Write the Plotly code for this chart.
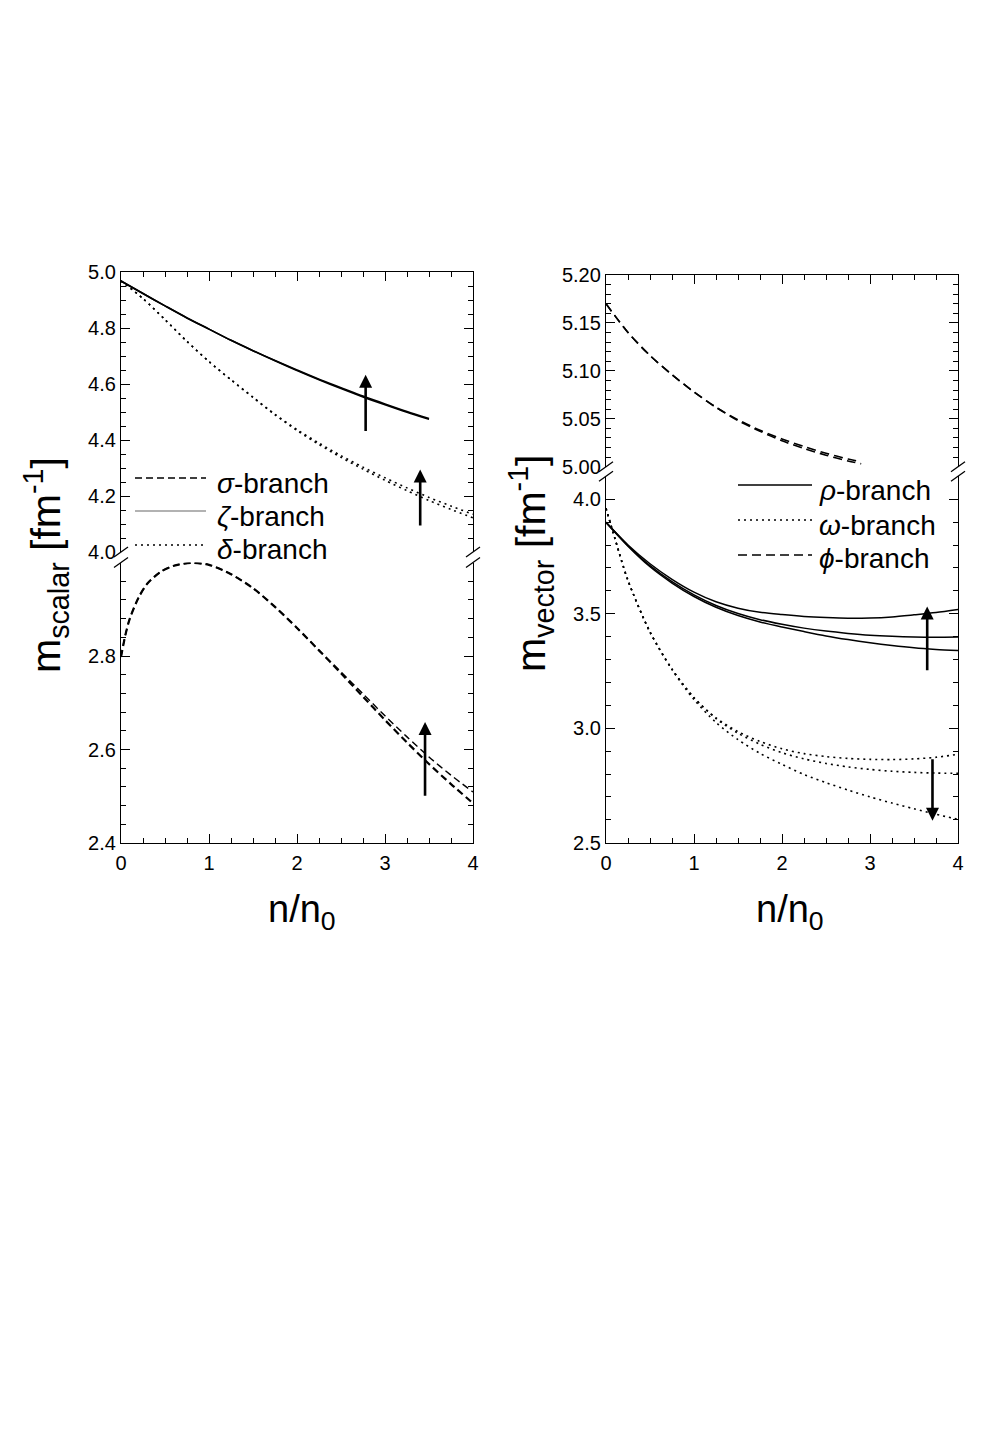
import plotly.graph_objects as go

# page body has an 8px margin: the figure is sized so the whole page fits the 1008x1429 window
OFF = 8
W, H = 1008 - 2 * OFF, 1429 - 2 * OFF

# ---------------- data ----------------
x_grid = [0, 0.25, 0.5, 0.75, 1.0, 1.25, 1.5, 1.75, 2.0, 2.25, 2.5, 2.75, 3.0, 3.25, 3.5, 3.75, 4.0]

# left panel, upper segment
x_zeta = [0, 0.25, 0.5, 0.75, 1.0, 1.25, 1.5, 1.75, 2.0, 2.25, 2.5, 2.75, 3.0, 3.25, 3.5]
zeta_a = [4.968, 4.923, 4.879, 4.836, 4.796, 4.756, 4.719, 4.683, 4.648, 4.615, 4.584, 4.554, 4.526, 4.499, 4.474]
zeta_b = [4.968, 4.923, 4.879, 4.836, 4.796, 4.756, 4.719, 4.684, 4.650, 4.617, 4.587, 4.557, 4.529, 4.502, 4.477]
delta_a = [4.968, 4.905, 4.830, 4.752, 4.680, 4.615, 4.552, 4.490, 4.434, 4.384, 4.338, 4.296, 4.256, 4.219, 4.184, 4.152, 4.122]
delta_b = [4.968, 4.905, 4.830, 4.752, 4.680, 4.615, 4.553, 4.492, 4.437, 4.389, 4.344, 4.303, 4.265, 4.229, 4.195, 4.164, 4.135]

# left panel, lower segment
x_sigma = [0, 0.05, 0.1, 0.2, 0.3, 0.45, 0.6, 0.8, 1.0, 1.25, 1.5, 1.75, 2.0, 2.25, 2.5, 2.75, 3.0, 3.25, 3.5, 3.75, 4.0]
sigma_a = [2.798, 2.845, 2.880, 2.925, 2.955, 2.980, 2.993, 2.999, 2.995, 2.975, 2.945, 2.905, 2.860, 2.812, 2.763, 2.713, 2.663, 2.615, 2.569, 2.526, 2.485]
sigma_b = [2.798, 2.845, 2.880, 2.925, 2.955, 2.980, 2.993, 2.999, 2.995, 2.975, 2.945, 2.905, 2.860, 2.812, 2.766, 2.719, 2.672, 2.627, 2.584, 2.545, 2.509]

# right panel, upper segment
x_phi = [0, 0.25, 0.5, 0.75, 1.0, 1.25, 1.5, 1.75, 2.0, 2.25, 2.5, 2.75, 2.9]
phi_a = [5.170, 5.140, 5.116, 5.096, 5.078, 5.062, 5.049, 5.038, 5.029, 5.021, 5.014, 5.008, 5.005]
phi_b = [5.170, 5.140, 5.116, 5.096, 5.078, 5.062, 5.048, 5.037, 5.027, 5.019, 5.012, 5.006, 5.003]

# right panel, lower segment
rho_a = [3.899, 3.800, 3.718, 3.650, 3.594, 3.552, 3.524, 3.506, 3.496, 3.488, 3.483, 3.480, 3.481, 3.486, 3.495, 3.505, 3.518]
rho_b = [3.899, 3.797, 3.710, 3.640, 3.582, 3.536, 3.501, 3.474, 3.454, 3.437, 3.424, 3.414, 3.406, 3.401, 3.398, 3.397, 3.398]
rho_c = [3.899, 3.795, 3.705, 3.634, 3.575, 3.528, 3.492, 3.464, 3.442, 3.422, 3.403, 3.387, 3.373, 3.361, 3.351, 3.344, 3.339]
x_omega = [0, 0.1, 0.25, 0.5, 0.75, 1.0, 1.25, 1.5, 1.75, 2.0, 2.25, 2.5, 2.75, 3.0, 3.25, 3.5, 3.75, 4.0]
omega_a = [3.960, 3.830, 3.645, 3.420, 3.258, 3.133, 3.045, 2.985, 2.942, 2.910, 2.889, 2.876, 2.868, 2.864, 2.863, 2.866, 2.873, 2.886]
omega_b = [3.960, 3.830, 3.645, 3.420, 3.258, 3.133, 3.042, 2.978, 2.930, 2.893, 2.866, 2.846, 2.831, 2.820, 2.812, 2.807, 2.804, 2.803]
omega_c = [3.960, 3.830, 3.645, 3.420, 3.256, 3.125, 3.025, 2.950, 2.890, 2.842, 2.798, 2.762, 2.730, 2.700, 2.673, 2.648, 2.624, 2.602]

# arrows: (x, tail y, head y)
arrows_left_top = [(2.78, 4.427, 4.633), (3.40, 4.089, 4.295)]
arrows_left_bot = [(3.455, 2.498, 2.659)]
arrows_right_bot = [(3.65, 3.247, 3.531), (3.71, 2.871, 2.596)]

# legend labels
left_labels = ["<i>σ</i>-branch", "<i>ζ</i>-branch", "<i>δ</i>-branch"]
right_labels = ["<i>ρ</i>-branch", "<i>ω</i>-branch", "<i>ϕ</i>-branch"]

# ---------------- styling ----------------
FONT = "Liberation Sans, Arial, Helvetica, sans-serif"
BLACK = "black"
DASH = "7px,4px"
DOT = "2px,4px"
LONGDASH = "9px,5px"


def px2x(px):
    return (px - OFF) / W


def py2y(py):
    return 1 - (py - OFF) / H


fig = go.Figure()


def line(x, y, xa, ya, dash="solid", width=1.5, color=BLACK):
    fig.add_trace(go.Scatter(x=x, y=y, xaxis=xa, yaxis=ya, mode="lines",
                             line=dict(color=color, width=width, dash=dash, shape="spline", smoothing=0.8),
                             showlegend=False, hoverinfo="skip"))


# left panel
line(x_zeta, zeta_a, "x2", "y2", "solid", 1.6)
line(x_zeta, zeta_b, "x2", "y2", "solid", 1.6)
line(x_grid, delta_a, "x2", "y2", DOT, 1.6)
line(x_grid, delta_b, "x2", "y2", DOT, 1.6)
line(x_sigma, sigma_a, "x", "y", DASH, 2.2)
line(x_sigma, sigma_b, "x", "y", DASH, 1.4)

# right panel
line(x_phi, phi_a, "x4", "y4", LONGDASH, 1.6)
line(x_phi, phi_b, "x4", "y4", LONGDASH, 1.6)
line(x_grid, rho_a, "x3", "y3", "solid", 1.5)
line(x_grid, rho_b, "x3", "y3", "solid", 1.5)
line(x_grid, rho_c, "x3", "y3", "solid", 1.5)
line(x_omega, omega_a, "x3", "y3", DOT, 1.6)
line(x_omega, omega_b, "x3", "y3", DOT, 1.6)
line(x_omega, omega_c, "x3", "y3", DOT, 1.6)

# ---------------- axes ----------------
dom_xl = [px2x(121), px2x(473)]
dom_xr = [px2x(606), px2x(958)]
tickfont = dict(family=FONT, size=20, color=BLACK)

common = dict(showline=True, linecolor=BLACK, linewidth=1.3, ticks="inside", tickcolor=BLACK,
              tickwidth=1.2, ticklen=9, showgrid=False, zeroline=False, tickfont=tickfont,
              automargin=False)


def xax(domain, anchor, side, labels):
    return dict(common, domain=domain, anchor=anchor, side=side, range=[0, 4], dtick=1, tick0=0,
                showticklabels=labels, mirror=False, ticklabelstandoff=2,
                minor=dict(dtick=0.25, ticks="inside", ticklen=5, tickcolor=BLACK, tickwidth=1.2))


def yax(domain, anchor, rng, tickvals, fmt, minor_dtick, minor0):
    return dict(common, domain=domain, anchor=anchor, range=rng, tickvals=tickvals,
                ticktext=[fmt.format(v) for v in tickvals], mirror="ticks",
                minor=dict(dtick=minor_dtick, tick0=minor0, ticks="inside", ticklen=5, tickcolor=BLACK, tickwidth=1.2))


fig.update_layout(
    xaxis=xax(dom_xl, "y", "bottom", True),
    xaxis2=xax(dom_xl, "y2", "top", False),
    xaxis3=xax(dom_xr, "y3", "bottom", True),
    xaxis4=xax(dom_xr, "y4", "top", False),
    yaxis=yax([py2y(843), py2y(562.5)], "x", [2.4, 3.0], [2.4, 2.6, 2.8], "{:.1f}", 0.04, 2.4),
    yaxis2=yax([py2y(552), py2y(272)], "x2", [4.0, 5.0], [4.0, 4.2, 4.4, 4.6, 4.8, 5.0], "{:.1f}", 0.05, 4.0),
    yaxis3=yax([py2y(842.7), py2y(476.3)], "x3", [2.5, 4.1], [2.5, 3.0, 3.5, 4.0], "{:.1f}", 0.1, 2.5),
    yaxis4=yax([py2y(466.7), py2y(275)], "x4", [5.0, 5.2], [5.0, 5.05, 5.10, 5.15, 5.20], "{:.2f}", 0.01, 5.0),
)

fig.update_layout(
    width=W, height=H, margin=dict(l=0, r=0, t=0, b=0, pad=0, autoexpand=False),
    paper_bgcolor="white", plot_bgcolor="white", showlegend=False,
    font=dict(family=FONT, color=BLACK),
)

# ---------------- arrows ----------------
def add_arrows(lst, xa, ya):
    for (xv, y0, y1) in lst:
        fig.add_annotation(x=xv, y=y1, ax=xv, ay=y0, xref=xa, yref=ya, axref=xa, ayref=ya,
                           text="", showarrow=True, arrowhead=2, arrowsize=1.0, arrowwidth=2.6,
                           arrowcolor=BLACK, standoff=0, startstandoff=0)


add_arrows(arrows_left_top, "x2", "y2")
add_arrows(arrows_left_bot, "x", "y")
add_arrows(arrows_right_bot, "x3", "y3")

# ---------------- axis titles ----------------
tfont = dict(family=FONT, size=41, color=BLACK)
xfont = dict(family=FONT, size=38, color=BLACK)
fig.add_annotation(text="m<sub>scalar</sub> [fm<sup>-1</sup>]", xref="paper", yref="paper",
                   x=px2x(46), y=py2y(565), textangle=-90, showarrow=False, font=tfont,
                   xanchor="center", yanchor="middle")
fig.add_annotation(text="m<sub>vector</sub> [fm<sup>-1</sup>]", xref="paper", yref="paper",
                   x=px2x(531), y=py2y(563), textangle=-90, showarrow=False, font=tfont,
                   xanchor="center", yanchor="middle")
fig.add_annotation(text="n/n<sub>0</sub>", xref="paper", yref="paper", x=px2x(302), y=py2y(912),
                   showarrow=False, font=xfont, xanchor="center", yanchor="middle")
fig.add_annotation(text="n/n<sub>0</sub>", xref="paper", yref="paper", x=px2x(790), y=py2y(912),
                   showarrow=False, font=xfont, xanchor="center", yanchor="middle")

# ---------------- legends (line keys + labels) ----------------
shapes = []
lfont = dict(family=FONT, size=28, color=BLACK)
left_keys = [(DASH, BLACK, 478, 483), ("solid", "#999999", 511, 516), (DOT, BLACK, 545, 549)]
for (dash, col, ly, ty), lab in zip(left_keys, left_labels):
    shapes.append(dict(type="line", xref="paper", yref="paper", x0=px2x(135), x1=px2x(206),
                       y0=py2y(ly), y1=py2y(ly), line=dict(color=col, width=1.5, dash=dash)))
    fig.add_annotation(text=lab, xref="paper", yref="paper", x=px2x(215), y=py2y(ty),
                       showarrow=False, font=lfont, xanchor="left", yanchor="middle")
right_keys = [("solid", BLACK, 485, 491), (DOT, BLACK, 520, 525), (LONGDASH, BLACK, 555, 558)]
for (dash, col, ly, ty), lab in zip(right_keys, right_labels):
    shapes.append(dict(type="line", xref="paper", yref="paper", x0=px2x(738), x1=px2x(812),
                       y0=py2y(ly), y1=py2y(ly), line=dict(color=col, width=1.5, dash=dash)))
    fig.add_annotation(text=lab, xref="paper", yref="paper", x=px2x(817), y=py2y(ty),
                       showarrow=False, font=lfont, xanchor="left", yanchor="middle")

# ---------------- axis-break marks ----------------
for xs, ytop, ybot in [(121, 552, 562.5), (473, 552, 562.5), (606, 466.7, 476.3), (958, 466.7, 476.3)]:
    for yy in (ytop, ybot):
        shapes.append(dict(type="line", xref="paper", yref="paper",
                           x0=px2x(xs - 7), y0=py2y(yy + 5), x1=px2x(xs + 7), y1=py2y(yy - 5),
                           line=dict(color=BLACK, width=1.3)))
fig.update_layout(shapes=shapes)

fig.write_html("out.html")
